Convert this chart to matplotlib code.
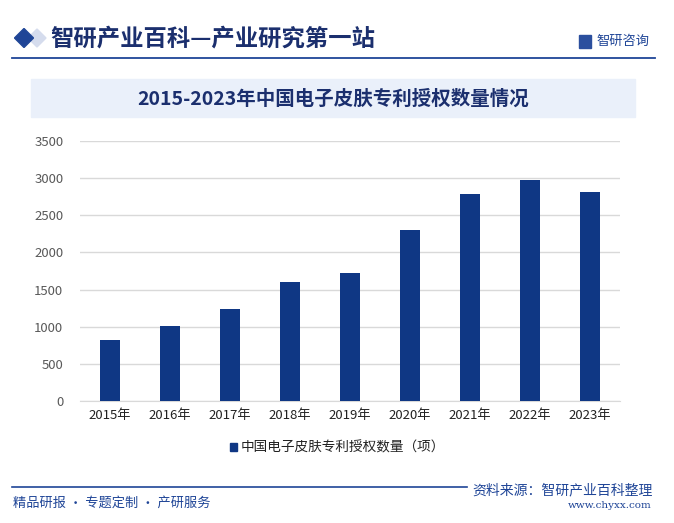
import matplotlib.pyplot as plt
import matplotlib.patches as mpatches
from matplotlib.lines import Line2D

plt.rcParams['font.family'] = ['Noto Sans CJK SC', 'DejaVu Sans']

years = ['2015年', '2016年', '2017年', '2018年', '2019年', '2020年', '2021年', '2022年', '2023年']
grants = [820, 1010, 1240, 1600, 1720, 2300, 2790, 2980, 2810]
series_name = '中国电子皮肤专利授权数量（项）'
yticks = [0, 500, 1000, 1500, 2000, 2500, 3000, 3500]

title = '2015-2023年中国电子皮肤专利授权数量情况'
header = '智研产业百科—产业研究第一站'
brand = '智研咨询'
footer_left = '精品研报 · 专题定制 · 产研服务'
footer_src = '资料来源：智研产业百科整理'
footer_url = 'www.chyxx.com'

W, H = 674, 523
dark = '#1b2f6e'
blue = '#1f4597'

fig = plt.figure(figsize=(W / 100, H / 100), dpi=100)
fig.patch.set_facecolor('white')


def fx(px):
    return px / W


def fy(py):
    return 1 - py / H


def diamond(cx, cy, r, color):
    pts = [(fx(cx - r), fy(cy)), (fx(cx), fy(cy - r)), (fx(cx + r), fy(cy)), (fx(cx), fy(cy + r))]
    fig.add_artist(mpatches.Polygon(pts, closed=True, transform=fig.transFigure, color=color))


# header
diamond(37, 38, 9, '#d5dced')
diamond(24, 38, 9.5, '#1f4597')
fig.text(fx(50), fy(39), header, fontsize=16.8, fontweight='bold', color=dark, va='center', ha='left')
fig.add_artist(Line2D([fx(12), fx(655)], [fy(58), fy(58)], transform=fig.transFigure,
                      color=blue, linewidth=1.3))
fig.add_artist(mpatches.Rectangle((fx(579), fy(48)), 12 / W, 13 / H, transform=fig.transFigure,
                                  color='#2b4f9e'))
fig.text(fx(596), fy(41), brand, fontsize=9.5, color=blue, va='center', ha='left')

# title banner
fig.add_artist(mpatches.Rectangle((fx(31), fy(117)), (635 - 31) / W, 38 / H, transform=fig.transFigure,
                                  color='#eaf0fa', zorder=0))
fig.text(fx(333), fy(99), title, fontsize=14, fontweight='bold', color=dark, va='center', ha='center')

# chart
ax = fig.add_axes([fx(80), fy(401), (620 - 80) / W, (401 - 141) / H])
x = range(len(years))
ax.bar(x, grants, width=0.32, color='#0f3784', zorder=3)
ax.set_xlim(-0.5, len(years) - 0.5)
ax.set_ylim(0, 3500)
ax.set_yticks(yticks)
ax.set_xticks(list(x))
ax.set_xticklabels(years)
ax.tick_params(axis='y', length=0, labelsize=9.5, labelcolor='#595959', pad=12)
ax.tick_params(axis='x', length=0, labelsize=9.5, labelcolor='#222222', pad=6)
ax.grid(axis='y', color='#d9d9d9', linewidth=1, zorder=0)
for s in ['top', 'right', 'left']:
    ax.spines[s].set_visible(False)
ax.spines['bottom'].set_color('#d9d9d9')
ax.set_facecolor('none')

# legend
fig.add_artist(mpatches.Rectangle((fx(230), fy(451)), 7 / W, 8 / H, transform=fig.transFigure,
                                  color='#0f3784'))
fig.text(fx(241), fy(447), series_name, fontsize=9.8, color='#222222', va='center', ha='left')

# footer
fig.add_artist(Line2D([fx(12), fx(467)], [fy(487), fy(487)], transform=fig.transFigure,
                      color=blue, linewidth=1.2))
fig.text(fx(13), fy(503), footer_left, fontsize=9.5, color=blue, va='center', ha='left')
fig.text(fx(653), fy(490), footer_src, fontsize=10, color=blue, va='center', ha='right')
fig.text(fx(652), fy(506), footer_url, fontsize=7.5, color=blue, va='center', ha='right',
         family=['DejaVu Serif'])

fig.savefig('out.png', dpi=100)
